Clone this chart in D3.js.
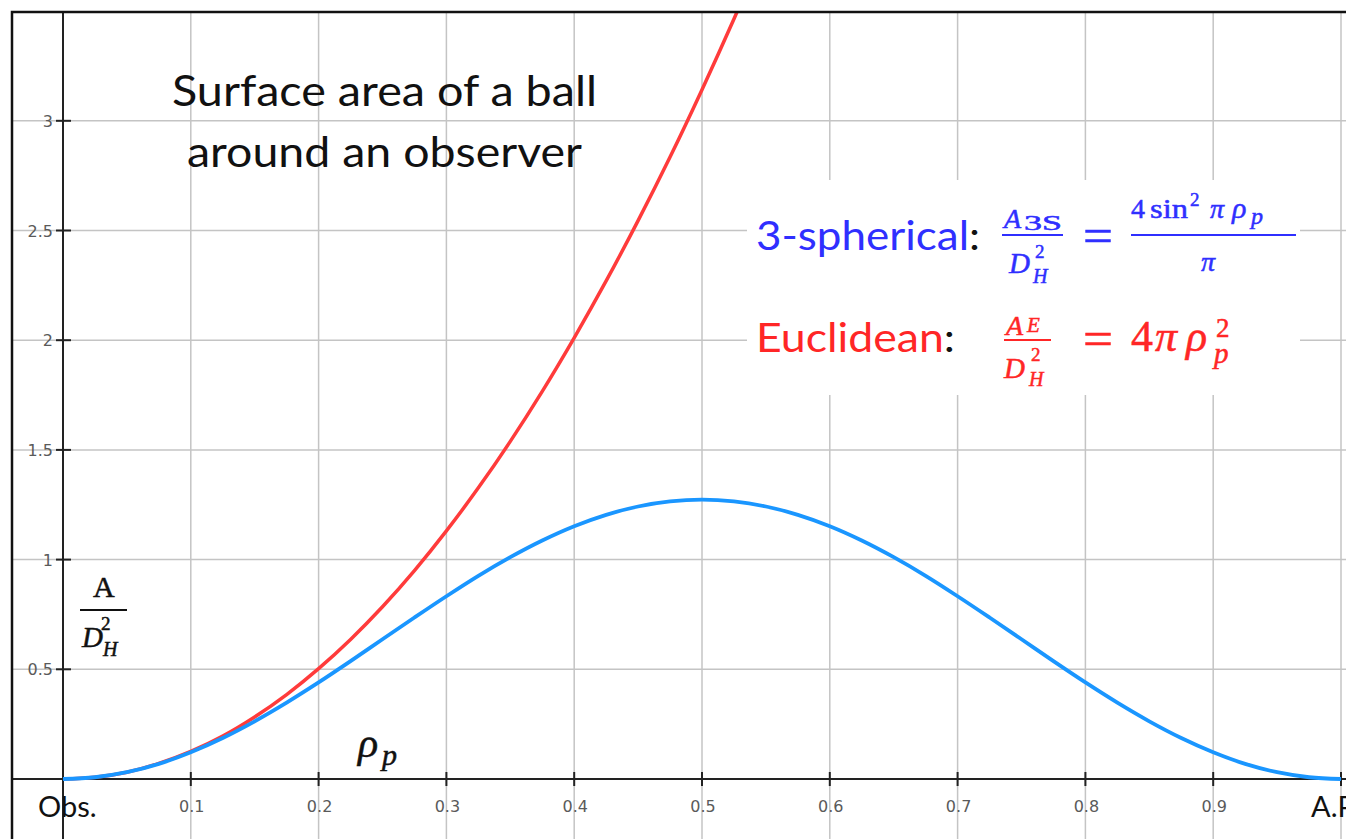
<!DOCTYPE html>
<html>
<head>
<meta charset="utf-8">
<script src="https://cdn.jsdelivr.net/npm/d3@7"></script>
<style>
  html, body { margin: 0; padding: 0; background: #fff; overflow: hidden; }
  svg { display: block; }
</style>
</head>
<body>
<svg id="chart" width="1346" height="839"></svg>
<script>
// Radius rho_p (fraction of the way from observer to antipode)
const rho = [0, 0.025, 0.05, 0.075, 0.1, 0.125, 0.15, 0.175, 0.2, 0.225, 0.25, 0.275,
  0.3, 0.325, 0.35, 0.375, 0.4, 0.425, 0.45, 0.475, 0.5, 0.525, 0.55, 0.575, 0.6,
  0.625, 0.65, 0.675, 0.7, 0.725, 0.75, 0.775, 0.8, 0.825, 0.85, 0.875, 0.9, 0.925,
  0.95, 0.975, 1.0];

// 3-spherical surface area A_3S / D_H^2
const spherical = [0, 0.008, 0.031, 0.069, 0.122, 0.187, 0.263, 0.348, 0.440, 0.537,
  0.637, 0.736, 0.833, 0.926, 1.011, 1.087, 1.152, 1.204, 1.242, 1.265, 1.273, 1.265,
  1.242, 1.204, 1.152, 1.087, 1.011, 0.926, 0.833, 0.736, 0.637, 0.537, 0.440, 0.348,
  0.263, 0.187, 0.122, 0.069, 0.031, 0.008, 0];

// Euclidean surface area A_E / D_H^2 (runs off the top of the plot)
const rhoEuclid = [0, 0.025, 0.05, 0.075, 0.1, 0.125, 0.15, 0.175, 0.2, 0.225, 0.25,
  0.275, 0.3, 0.325, 0.35, 0.375, 0.4, 0.425, 0.45, 0.475, 0.5, 0.525, 0.55];
const euclidean = [0, 0.008, 0.031, 0.071, 0.126, 0.196, 0.283, 0.385, 0.503, 0.636,
  0.785, 0.950, 1.131, 1.327, 1.539, 1.767, 2.011, 2.270, 2.545, 2.835, 3.142, 3.464, 3.801];

// Axis ticks
const xTicks = [0.1, 0.2, 0.3, 0.4, 0.5, 0.6, 0.7, 0.8, 0.9];
const xGrid = [0.1, 0.2, 0.3, 0.4, 0.5, 0.6, 0.7, 0.8, 0.9, 1.0];
const yTicks = [0.5, 1, 1.5, 2, 2.5, 3];
const endLabels = ["Obs.", "A.P."];

const svg = d3.select("#chart");
const W = 1346, H = 839;

const x = d3.scaleLinear().domain([0, 1]).range([63, 1341]);
const y = d3.scaleLinear().domain([0, 3]).range([779, 120.8]);

const frameL = 12, frameT = 12;

svg.append("defs").append("clipPath").attr("id", "plotClip")
  .append("rect").attr("x", frameL).attr("y", frameT)
  .attr("width", W - frameL).attr("height", H - frameT);

const plot = svg.append("g").attr("clip-path", "url(#plotClip)");

// grid
plot.append("g").selectAll("line").data(xGrid).join("line")
  .attr("x1", d => x(d)).attr("x2", d => x(d))
  .attr("y1", frameT).attr("y2", H)
  .attr("stroke", "#c4c4c4").attr("stroke-width", 1.5);
plot.append("g").selectAll("line").data(yTicks).join("line")
  .attr("x1", frameL).attr("x2", W)
  .attr("y1", d => y(d)).attr("y2", d => y(d))
  .attr("stroke", "#c4c4c4").attr("stroke-width", 1.5);

// white panel behind the formulas
plot.append("rect").attr("x", 747).attr("y", 180).attr("width", 553).attr("height", 215)
  .attr("fill", "#fff");

// axes
plot.append("line").attr("x1", frameL).attr("x2", W).attr("y1", y(0)).attr("y2", y(0))
  .attr("stroke", "#222").attr("stroke-width", 2);
plot.append("line").attr("x1", x(0)).attr("x2", x(0)).attr("y1", frameT).attr("y2", H)
  .attr("stroke", "#222").attr("stroke-width", 2);

// tick marks
plot.append("g").selectAll("line").data(xGrid).join("line")
  .attr("x1", d => x(d)).attr("x2", d => x(d))
  .attr("y1", y(0) - 7).attr("y2", y(0) + 7)
  .attr("stroke", "#222").attr("stroke-width", 2);
plot.append("g").selectAll("line").data(yTicks).join("line")
  .attr("x1", x(0) - 7).attr("x2", x(0) + 8)
  .attr("y1", d => y(d)).attr("y2", d => y(d))
  .attr("stroke", "#222").attr("stroke-width", 2);

// tick labels
plot.append("g").selectAll("text").data(xTicks).join("text")
  .attr("x", d => x(d) + 1).attr("y", 812)
  .attr("text-anchor", "middle")
  .attr("font-family", "'DejaVu Sans', sans-serif").attr("font-size", 16).attr("fill", "#5a5a5a")
  .text(d => d3.format(".1f")(d));
plot.append("g").selectAll("text").data(yTicks).join("text")
  .attr("x", 53).attr("y", d => y(d) + 6)
  .attr("text-anchor", "end")
  .attr("font-family", "'DejaVu Sans', sans-serif").attr("font-size", 16).attr("fill", "#5a5a5a")
  .text(d => String(d));

const sans = "Lato, 'Open Sans', sans-serif";
const serif = "'Liberation Serif', 'DejaVu Serif', serif";

plot.append("text").attr("x", 38).attr("y", 817)
  .attr("font-family", sans).attr("font-size", 29).attr("fill", "#111")
  .text(endLabels[0]);
plot.append("text").attr("x", 1311).attr("y", 817)
  .attr("font-family", sans).attr("font-size", 29).attr("fill", "#111")
  .text(endLabels[1]);

// curves
const line = d3.line().curve(d3.curveMonotoneX);
plot.append("path")
  .attr("d", line(rhoEuclid.map((r, i) => [x(r), y(euclidean[i])])))
  .attr("fill", "none").attr("stroke", "#ff3b3b").attr("stroke-width", 3.5);
plot.append("path")
  .attr("d", line(rho.map((r, i) => [x(r), y(spherical[i])])))
  .attr("fill", "none").attr("stroke", "#1a96ff").attr("stroke-width", 3.8);

// frame
svg.append("path")
  .attr("d", `M${frameL},${H + 5} L${frameL},${frameT} L${W + 5},${frameT}`)
  .attr("fill", "none").attr("stroke", "#111").attr("stroke-width", 2.5);

// text helper; serif math glyphs get a hairline stroke for a heavier weight
function put(px, py, str, o = {}) {
  const fill = o.fill || "#111";
  const t = svg.append("text").attr("x", px).attr("y", py)
    .attr("font-family", o.family || serif)
    .attr("font-size", o.size || 26)
    .attr("fill", fill)
    .text(str);
  if (!o.family) t.attr("stroke", fill).attr("stroke-width", 0.5);
  if (o.italic) t.attr("font-style", "italic");
  if (o.len) t.attr("textLength", o.len).attr("lengthAdjust", "spacingAndGlyphs");
  if (o.anchor) t.attr("text-anchor", o.anchor);
  return t;
}
function bar(x1, x2, yy, color) {
  svg.append("line").attr("x1", x1).attr("x2", x2).attr("y1", yy).attr("y2", yy)
    .attr("stroke", color).attr("stroke-width", 2);
}

// title
put(172, 106, "Surface area of a ball", { family: sans, size: 42, len: 425, fill: "#111" });
put(187, 167, "around an observer", { family: sans, size: 42, len: 395, fill: "#111" });

// axis labels
put(93, 597, "A", { size: 30 });
bar(80, 127, 610, "#111");
put(82, 647, "D", { size: 29, italic: true });
put(101, 630, "2", { size: 19 });
put(103, 656, "H", { size: 20, italic: true });

put(358, 757, "ρ", { size: 42, italic: true });
put(382, 765, "p", { size: 30, italic: true });

// 3-spherical formula
const blue = "#2f2fff", red = "#ff2626";
const s1 = svg.append("text").attr("x", 756).attr("y", 250)
  .attr("font-family", sans).attr("font-size", 40)
  .attr("textLength", 224).attr("lengthAdjust", "spacingAndGlyphs");
s1.append("tspan").attr("fill", blue).text("3-spherical");
s1.append("tspan").attr("fill", "#111").text(":");

put(1004, 228, "A", { size: 28, italic: true, fill: blue });
put(1024, 230, "3S", { size: 21, fill: blue, len: 38 });
bar(1002, 1063, 235, blue);
put(1009, 273, "D", { size: 29, italic: true, fill: blue });
put(1035, 258, "2", { size: 19, fill: blue });
put(1033, 283, "H", { size: 20, italic: true, fill: blue });

put(1083, 252, "=", { size: 48, fill: blue, len: 30 });

put(1131, 218, "4", { size: 28, fill: blue });
put(1150, 218, "sin", { size: 28, fill: blue, len: 38 });
put(1190, 206, "2", { size: 19, fill: blue });
put(1210, 218, "π", { size: 28, italic: true, fill: blue });
put(1232, 218, "ρ", { size: 30, italic: true, fill: blue });
put(1251, 224, "p", { size: 24, italic: true, fill: blue });
bar(1131, 1296, 235, blue);
put(1201, 271, "π", { size: 28, italic: true, fill: blue });

// Euclidean formula
const s2 = svg.append("text").attr("x", 756).attr("y", 352)
  .attr("font-family", sans).attr("font-size", 40)
  .attr("textLength", 199).attr("lengthAdjust", "spacingAndGlyphs");
s2.append("tspan").attr("fill", red).text("Euclidean");
s2.append("tspan").attr("fill", "#111").text(":");

put(1006, 335, "A", { size: 28, italic: true, fill: red });
put(1027, 332, "E", { size: 21, italic: true, fill: red });
bar(1004, 1051, 340, red);
put(1004, 378, "D", { size: 29, italic: true, fill: red });
put(1031, 361, "2", { size: 19, fill: red });
put(1029, 386, "H", { size: 20, italic: true, fill: red });

put(1083, 355, "=", { size: 48, fill: red, len: 30 });

put(1131, 351, "4", { size: 44, fill: red });
put(1155, 351, "π", { size: 44, italic: true, fill: red });
put(1186, 351, "ρ", { size: 44, italic: true, fill: red });
put(1216, 337, "2", { size: 27, fill: red });
put(1214, 363, "p", { size: 29, italic: true, fill: red });
</script>
</body>
</html>
